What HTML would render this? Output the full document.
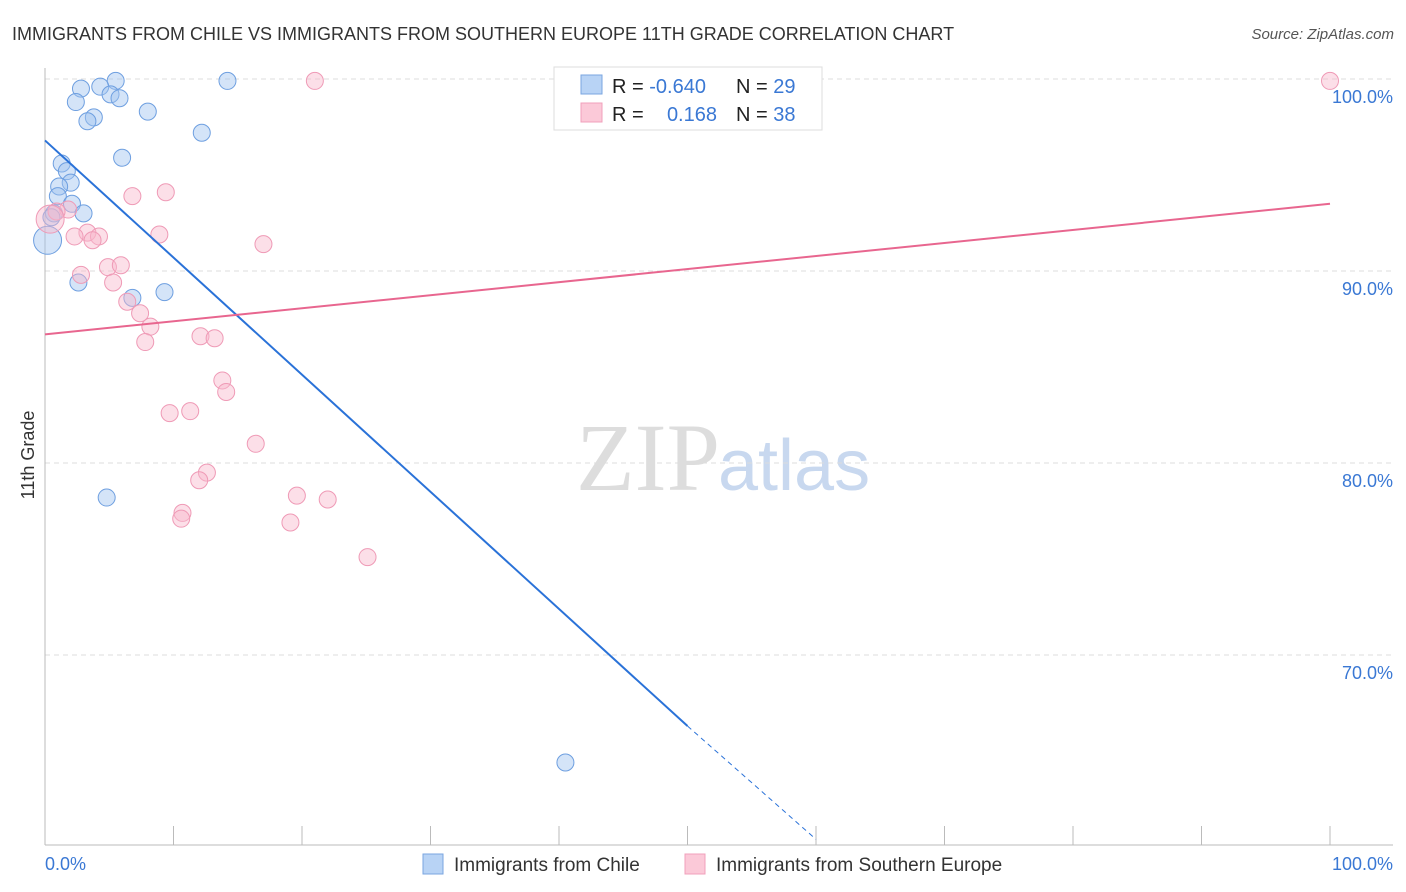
<!DOCTYPE html>
<html><head><meta charset="utf-8"><style>
body{margin:0;background:#fff;font-family:"Liberation Sans",sans-serif;}
svg{display:block}
</style></head><body>
<svg id="chart" width="1406" height="892" xmlns="http://www.w3.org/2000/svg">
<text x="12" y="40" font-size="18" fill="#333">IMMIGRANTS FROM CHILE VS IMMIGRANTS FROM SOUTHERN EUROPE 11TH GRADE CORRELATION CHART</text>
<text x="1394" y="39" font-size="15" fill="#555" font-style="italic" text-anchor="end">Source: ZipAtlas.com</text>
<text x="720" y="490" font-size="96" fill="#ddd" text-anchor="end" font-family="Liberation Serif,serif">ZIP</text>
<text x="718" y="490" font-size="72" fill="#c8d8ef">atlas</text>
<text transform="translate(34,455) rotate(-90)" font-size="18" fill="#333" text-anchor="middle">11th Grade</text>
<g id="grid"></g><g id="axes"></g><g id="pts"></g><g id="lines"></g>
<g>
<rect x="554" y="67" width="268" height="63" fill="#fff" stroke="#ddd"/>
<rect x="581" y="75" width="21" height="19" fill="#b8d3f5" stroke="#7aa6e0"/>
<rect x="581" y="103" width="21" height="19" fill="#fbc9d8" stroke="#f0a0bb"/>
<text x="612" y="93" font-size="20" fill="#222">R = <tspan fill="#3a78d4">-0.640</tspan></text>
<text x="736" y="93" font-size="20" fill="#222">N = <tspan fill="#3a78d4">29</tspan></text>
<text x="612" y="121" font-size="20" fill="#222">R = </text>
<text x="717" y="121" font-size="20" fill="#3a78d4" text-anchor="end">0.168</text>
<text x="736" y="121" font-size="20" fill="#222">N = <tspan fill="#3a78d4">38</tspan></text>
</g>
<g>
<rect x="423" y="854" width="20" height="20" fill="#b8d3f5" stroke="#7aa6e0"/>
<text x="454" y="871" font-size="19" fill="#333">Immigrants from Chile</text>
<rect x="685" y="854" width="20" height="20" fill="#fbc9d8" stroke="#f0a0bb"/>
<text x="716" y="871" font-size="19" fill="#333">Immigrants from Southern Europe</text>
</g>
</svg>
<script>
const yTicks=[100,90,80,70];
const yTickLabels=["100.0%","90.0%","80.0%","70.0%"];
const xTicks=[0,10,20,30,40,50,60,70,80,90,100];
const chileX=[5.5,14.2,4.3,2.8,5.1,5.8,2.4,8.0,3.8,3.3,12.2,6.0,1.3,1.7,2.0,1.1,1.0,2.1,3.0,0.7,0.5,0.2,2.6,6.8,9.3,4.8,40.5];
const chileY=[99.9,99.9,99.6,99.5,99.2,99.0,98.8,98.3,98.0,97.8,97.2,95.9,95.6,95.2,94.6,94.4,93.9,93.5,93.0,93.0,92.8,91.6,89.4,88.6,88.9,78.2,64.4];
const seX=[21.0,100,6.8,9.4,1.8,0.9,0.4,3.3,4.2,2.3,3.7,8.9,17.0,2.8,4.9,5.9,5.3,6.4,7.4,8.2,7.8,12.1,13.2,13.8,14.1,9.7,11.3,16.4,12.6,12.0,10.7,10.6,19.6,22.0,19.1,25.1];
const seY=[99.9,99.9,93.9,94.1,93.2,93.1,92.7,92.0,91.8,91.8,91.6,91.9,91.4,89.8,90.2,90.3,89.4,88.4,87.8,87.1,86.3,86.6,86.5,84.3,83.7,82.6,82.7,81.0,79.5,79.1,77.4,77.1,78.3,78.1,76.9,75.1];
const chileTrend=[[0,96.8],[50,66.3],[60,60.4]];
const seTrend=[[0,86.7],[100,93.5]];
const NS="http://www.w3.org/2000/svg";
const X=v=>45+v*12.85, Y=v=>79+(100-v)*19.2;
function mk(tag,attrs,parent){const e=document.createElementNS(NS,tag);for(const k in attrs)e.setAttribute(k,attrs[k]);document.getElementById(parent).appendChild(e);return e;}
yTicks.forEach((t,i)=>{
 const l=mk('line',{x1:45,x2:1393,y1:Y(t),y2:Y(t),stroke:'#ddd','stroke-dasharray':'5,4'},'grid');
 
 
 const tx=mk('text',{x:1393,y:Y(t)+24,'font-size':18,fill:'#3a78d4','text-anchor':'end'},'grid');
 tx.textContent=yTickLabels[i];
 
 
});
const ax=mk('line',{x1:45,x2:45,y1:68,y2:845,stroke:'#bbb'},'axes');


const bx=mk('line',{x1:45,x2:1393,y1:845,y2:845,stroke:'#bbb'},'axes');


xTicks.forEach(t=>{
 const l=mk('line',{x1:X(t),x2:X(t),y1:826,y2:845,stroke:'#bbb'},'axes');
 
 
});
const x0=mk('text',{x:45,y:870,'font-size':18,fill:'#3a78d4'},'axes');x0.textContent='0.0%';


const x1=mk('text',{x:1393,y:870,'font-size':18,fill:'#3a78d4','text-anchor':'end'},'axes');x1.textContent='100.0%';


chileX.forEach((v,i)=>{
 const c=mk('circle',{cx:X(v),cy:Y(chileY[i]),r:i==21?14:8.5,fill:'rgba(160,195,240,0.45)',stroke:'#6e9fe0','stroke-width':1},'pts');
 
 
});
seX.forEach((v,i)=>{
 const c=mk('circle',{cx:X(v),cy:Y(seY[i]),r:i==6?14:8.5,fill:'rgba(248,185,205,0.45)',stroke:'#ef9ab6','stroke-width':1},'pts');
 
 
});
const b1=mk('line',{x1:X(chileTrend[0][0]),y1:Y(chileTrend[0][1]),x2:X(chileTrend[1][0]),y2:Y(chileTrend[1][1]),stroke:'#2a72d8','stroke-width':2},'lines');


const b2=mk('line',{x1:X(chileTrend[1][0]),y1:Y(chileTrend[1][1]),x2:X(chileTrend[2][0]),y2:Y(chileTrend[2][1]),stroke:'#2a72d8','stroke-width':1,'stroke-dasharray':'5,4'},'lines');


const p1=mk('line',{x1:X(seTrend[0][0]),y1:Y(seTrend[0][1]),x2:X(seTrend[1][0]),y2:Y(seTrend[1][1]),stroke:'#e8668f','stroke-width':2},'lines');


</script>
</body></html>
